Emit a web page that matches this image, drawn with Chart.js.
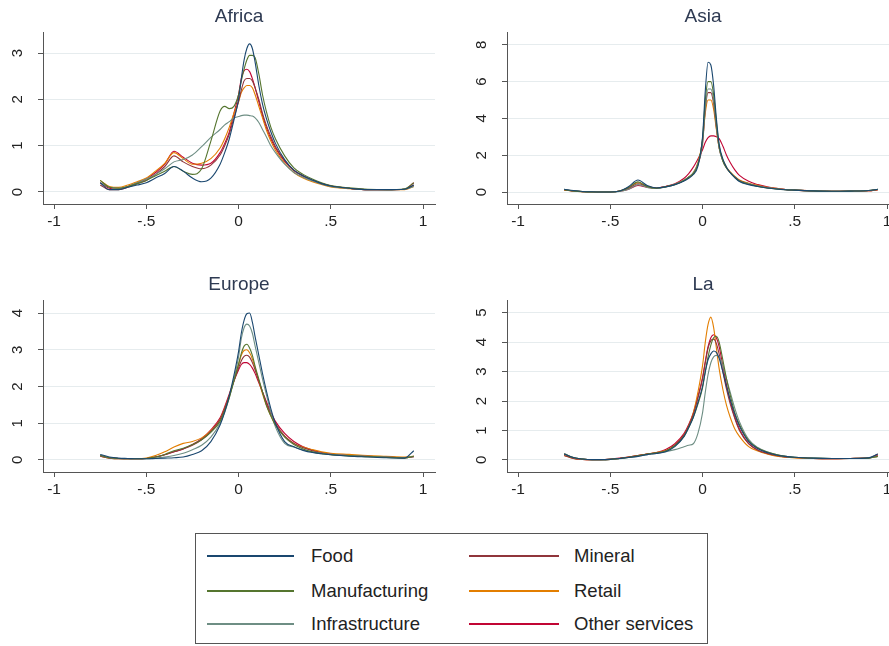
<!DOCTYPE html>
<html>
<head>
<meta charset="utf-8">
<script src="https://cdn.jsdelivr.net/npm/chart.js@4"></script>
<style>
  body { margin: 0; width: 889px; height: 646px; overflow: hidden; background: #fff; position: relative;
         font-family: "Liberation Sans", Arial, sans-serif; }
  canvas.panel { position: absolute; }
  #legend { position: absolute; left: 195px; top: 533px; width: 513px; height: 111px;
            border: 1px solid #555; box-sizing: border-box; }
  .item { position: absolute; height: 22px; line-height: 22px; font-size: 18.5px; color: #222; white-space: nowrap; }
  .item .swatch { position: absolute; top: 10px; height: 1.6px; }
</style>
</head>
<body>
<canvas id="africa" class="panel"></canvas>
<canvas id="asia" class="panel"></canvas>
<canvas id="europe" class="panel"></canvas>
<canvas id="la" class="panel"></canvas>
<div id="legend"></div>

<script>
const seriesNames = ['Food', 'Manufacturing', 'Infrastructure', 'Mineral', 'Retail', 'Other services'];
const seriesColors = ['#1a476f', '#55752f', '#6e8e84', '#90353b', '#e37e00', '#c10534'];

const xTicks = [-1, -0.5, 0, 0.5, 1];
const xTickLabels = ['-1', '-.5', '0', '.5', '1'];

// evaluation points of the densities
const xs = [-0.75, -0.7, -0.65, -0.6, -0.55, -0.5, -0.45, -0.4, -0.35, -0.3,
            -0.25, -0.2, -0.15, -0.1, -0.075, -0.05, -0.025, 0, 0.015, 0.03,
            0.045, 0.06, 0.075, 0.09, 0.11, 0.13, 0.15, 0.175, 0.2, 0.25,
            0.3, 0.35, 0.4, 0.45, 0.5, 0.6, 0.7, 0.8, 0.9, 0.95];

// Africa
const africaFood = [0.2, 0.05, 0.05, 0.1, 0.15, 0.2, 0.3, 0.4, 0.55, 0.45, 0.3, 0.22, 0.3, 0.6, 0.85, 1.15, 1.55, 2.0, 2.45, 2.85, 3.1, 3.2, 3.1, 2.8, 2.3, 1.9, 1.6, 1.3, 1.05, 0.7, 0.47, 0.35, 0.26, 0.18, 0.13, 0.08, 0.05, 0.05, 0.06, 0.15];
const africaManufacturing = [0.25, 0.1, 0.08, 0.12, 0.18, 0.25, 0.35, 0.45, 0.55, 0.45, 0.38, 0.5, 1.1, 1.75, 1.85, 1.8, 1.85, 2.1, 2.4, 2.65, 2.85, 2.95, 2.95, 2.9, 2.55, 2.1, 1.75, 1.4, 1.15, 0.78, 0.52, 0.38, 0.28, 0.2, 0.14, 0.09, 0.06, 0.05, 0.07, 0.2];
const africaInfrastructure = [0.2, 0.1, 0.08, 0.12, 0.2, 0.28, 0.38, 0.5, 0.65, 0.7, 0.8, 0.98, 1.18, 1.35, 1.45, 1.52, 1.6, 1.63, 1.65, 1.66, 1.66, 1.65, 1.64, 1.6, 1.5, 1.35, 1.2, 1.0, 0.85, 0.6, 0.42, 0.32, 0.24, 0.17, 0.12, 0.08, 0.05, 0.05, 0.06, 0.12];
const africaMineral = [0.15, 0.05, 0.05, 0.1, 0.18, 0.25, 0.38, 0.55, 0.78, 0.65, 0.55, 0.5, 0.58, 0.8, 1.0, 1.25, 1.6, 1.95, 2.2, 2.4, 2.45, 2.45, 2.4, 2.25, 2.0, 1.7, 1.45, 1.2, 0.98, 0.68, 0.47, 0.35, 0.25, 0.18, 0.13, 0.08, 0.05, 0.05, 0.06, 0.15];
const africaRetail = [0.25, 0.12, 0.1, 0.15, 0.22, 0.3, 0.45, 0.62, 0.85, 0.72, 0.6, 0.62, 0.72, 0.95, 1.15, 1.4, 1.7, 1.95, 2.15, 2.25, 2.3, 2.3, 2.25, 2.1, 1.85, 1.6, 1.35, 1.1, 0.9, 0.62, 0.42, 0.3, 0.22, 0.16, 0.11, 0.07, 0.05, 0.05, 0.05, 0.12];
const africaOther = [0.2, 0.08, 0.06, 0.12, 0.2, 0.28, 0.42, 0.6, 0.88, 0.75, 0.62, 0.58, 0.62, 0.85, 1.05, 1.3, 1.7, 2.1, 2.45, 2.62, 2.65, 2.6, 2.45, 2.25, 1.95, 1.65, 1.4, 1.15, 0.95, 0.66, 0.46, 0.34, 0.25, 0.18, 0.13, 0.08, 0.05, 0.05, 0.06, 0.2];

// Asia
const asiaFood = [0.15, 0.08, 0.03, 0.01, 0.0, 0.0, 0.05, 0.3, 0.65, 0.35, 0.22, 0.28, 0.4, 0.6, 0.75, 0.95, 1.4, 3.0, 5.5, 7.05, 6.9, 5.8, 4.0, 2.6, 1.8, 1.35, 1.05, 0.78, 0.57, 0.4, 0.3, 0.22, 0.16, 0.12, 0.1, 0.06, 0.04, 0.05, 0.08, 0.15];
const asiaManufacturing = [0.12, 0.06, 0.02, 0.0, 0.0, 0.0, 0.05, 0.25, 0.55, 0.3, 0.2, 0.28, 0.4, 0.62, 0.8, 1.0, 1.5, 2.9, 5.0, 6.0, 6.0, 5.3, 3.8, 2.5, 1.7, 1.3, 1.05, 0.8, 0.6, 0.42, 0.3, 0.22, 0.16, 0.12, 0.1, 0.06, 0.04, 0.05, 0.08, 0.15];
const asiaInfrastructure = [0.15, 0.06, 0.02, 0.0, 0.0, 0.0, 0.03, 0.15, 0.4, 0.25, 0.2, 0.28, 0.42, 0.65, 0.82, 1.05, 1.55, 2.7, 4.6, 5.6, 5.6, 5.0, 3.6, 2.4, 1.7, 1.3, 1.05, 0.8, 0.6, 0.45, 0.32, 0.24, 0.18, 0.13, 0.1, 0.06, 0.04, 0.05, 0.08, 0.15];
const asiaMineral = [0.12, 0.05, 0.02, 0.0, 0.0, 0.0, 0.05, 0.2, 0.45, 0.3, 0.22, 0.3, 0.42, 0.62, 0.8, 1.0, 1.5, 2.6, 4.5, 5.4, 5.4, 4.8, 3.5, 2.4, 1.7, 1.3, 1.05, 0.82, 0.62, 0.45, 0.32, 0.24, 0.18, 0.13, 0.1, 0.06, 0.04, 0.05, 0.07, 0.12];
const asiaRetail = [0.1, 0.05, 0.02, 0.0, 0.0, 0.0, 0.05, 0.25, 0.5, 0.3, 0.22, 0.3, 0.42, 0.65, 0.82, 1.05, 1.6, 2.8, 4.3, 5.0, 5.0, 4.5, 3.4, 2.4, 1.75, 1.35, 1.1, 0.85, 0.65, 0.48, 0.36, 0.26, 0.2, 0.14, 0.1, 0.06, 0.04, 0.05, 0.07, 0.12];
const asiaOther = [0.12, 0.05, 0.02, 0.0, 0.0, 0.0, 0.04, 0.15, 0.35, 0.25, 0.22, 0.3, 0.45, 0.75, 1.0, 1.35, 1.8, 2.3, 2.7, 2.95, 3.05, 3.05, 3.0, 2.9, 2.5, 2.0, 1.6, 1.2, 0.9, 0.58, 0.4, 0.28, 0.2, 0.14, 0.1, 0.06, 0.04, 0.05, 0.07, 0.12];

// Europe
const europeFood = [0.15, 0.08, 0.05, 0.04, 0.03, 0.03, 0.04, 0.05, 0.06, 0.08, 0.15, 0.25, 0.5, 0.95, 1.3, 1.75, 2.3, 2.95, 3.45, 3.8, 3.98, 4.0, 3.75, 3.35, 2.85, 2.35, 1.9, 1.4, 1.0, 0.5, 0.36, 0.26, 0.2, 0.17, 0.14, 0.1, 0.08, 0.06, 0.05, 0.25];
const europeManufacturing = [0.12, 0.06, 0.04, 0.03, 0.03, 0.04, 0.08, 0.15, 0.25, 0.32, 0.42, 0.55, 0.75, 1.05, 1.35, 1.7, 2.15, 2.6, 2.9, 3.1, 3.15, 3.05, 2.85, 2.55, 2.2, 1.85, 1.5, 1.2, 0.95, 0.62, 0.42, 0.3, 0.22, 0.17, 0.14, 0.11, 0.09, 0.07, 0.05, 0.1];
const europeInfrastructure = [0.12, 0.06, 0.04, 0.03, 0.03, 0.03, 0.05, 0.08, 0.12, 0.18, 0.28, 0.4, 0.62, 1.0, 1.3, 1.7, 2.2, 2.8, 3.3, 3.6, 3.7, 3.65, 3.45, 3.1, 2.65, 2.2, 1.8, 1.3, 0.9, 0.45, 0.35, 0.27, 0.22, 0.18, 0.15, 0.12, 0.1, 0.08, 0.06, 0.1];
const europeMineral = [0.1, 0.05, 0.03, 0.03, 0.03, 0.04, 0.08, 0.14, 0.22, 0.3, 0.4, 0.55, 0.78, 1.1, 1.4, 1.75, 2.15, 2.5, 2.7, 2.82, 2.85, 2.8, 2.65, 2.45, 2.15, 1.85, 1.55, 1.25, 1.0, 0.65, 0.45, 0.33, 0.25, 0.19, 0.15, 0.12, 0.1, 0.08, 0.06, 0.08];
const europeRetail = [0.1, 0.05, 0.03, 0.03, 0.03, 0.05, 0.12, 0.22, 0.35, 0.45, 0.5, 0.6, 0.8, 1.1, 1.4, 1.75, 2.2, 2.6, 2.85, 2.98, 3.0, 2.92, 2.75, 2.5, 2.15, 1.8, 1.5, 1.2, 0.95, 0.65, 0.45, 0.35, 0.28, 0.22, 0.18, 0.15, 0.12, 0.1, 0.08, 0.1];
const europeOther = [0.12, 0.06, 0.04, 0.03, 0.03, 0.04, 0.08, 0.14, 0.22, 0.3, 0.42, 0.58, 0.82, 1.15, 1.45, 1.8, 2.15, 2.45, 2.6, 2.65, 2.65, 2.6, 2.5, 2.35, 2.1, 1.85, 1.6, 1.3, 1.05, 0.72, 0.5, 0.36, 0.27, 0.2, 0.16, 0.12, 0.1, 0.08, 0.06, 0.1];

// La
const laFood = [0.2, 0.08, 0.03, 0.01, 0.01, 0.02, 0.05, 0.08, 0.12, 0.18, 0.22, 0.28, 0.45, 0.8, 1.1, 1.45, 1.95, 2.5, 3.0, 3.4, 3.6, 3.7, 3.65, 3.45, 3.0, 2.5, 2.05, 1.55, 1.15, 0.62, 0.38, 0.25, 0.17, 0.12, 0.09, 0.06, 0.05, 0.05, 0.07, 0.2];
const laManufacturing = [0.2, 0.08, 0.03, 0.01, 0.01, 0.02, 0.05, 0.09, 0.14, 0.2, 0.24, 0.3, 0.48, 0.8, 1.1, 1.45, 1.9, 2.45, 3.0, 3.5, 3.9, 4.15, 4.2, 4.0, 3.4, 2.75, 2.2, 1.6, 1.2, 0.65, 0.4, 0.27, 0.18, 0.12, 0.09, 0.06, 0.05, 0.05, 0.06, 0.12];
const laInfrastructure = [0.22, 0.08, 0.03, 0.01, 0.01, 0.02, 0.04, 0.08, 0.12, 0.18, 0.22, 0.28, 0.35, 0.45, 0.5, 0.55, 0.9, 1.6, 2.3, 2.9, 3.3, 3.5, 3.55, 3.5, 3.2, 2.75, 2.3, 1.75, 1.3, 0.7, 0.42, 0.28, 0.18, 0.12, 0.09, 0.06, 0.05, 0.05, 0.06, 0.12];
const laMineral = [0.15, 0.05, 0.02, 0.01, 0.01, 0.02, 0.05, 0.1, 0.15, 0.2, 0.24, 0.3, 0.5, 0.85, 1.15, 1.55, 2.1, 2.75, 3.3, 3.8, 4.05, 4.1, 3.95, 3.6, 3.0, 2.4, 1.9, 1.4, 1.0, 0.55, 0.33, 0.22, 0.15, 0.1, 0.08, 0.05, 0.04, 0.05, 0.06, 0.2];
const laRetail = [0.15, 0.05, 0.02, 0.01, 0.01, 0.02, 0.05, 0.1, 0.15, 0.2, 0.25, 0.32, 0.5, 0.85, 1.15, 1.6, 2.3, 3.2, 4.0, 4.6, 4.85, 4.5, 3.8, 3.1, 2.4, 1.85, 1.45, 1.05, 0.8, 0.45, 0.3, 0.2, 0.13, 0.09, 0.07, 0.05, 0.04, 0.05, 0.07, 0.12];
const laOther = [0.2, 0.06, 0.02, 0.01, 0.01, 0.03, 0.06, 0.1, 0.15, 0.2, 0.25, 0.35, 0.55, 0.9, 1.2, 1.6, 2.15, 2.8, 3.35, 3.85, 4.15, 4.25, 4.15, 3.85, 3.2, 2.55, 2.0, 1.45, 1.05, 0.55, 0.33, 0.22, 0.15, 0.1, 0.08, 0.05, 0.04, 0.05, 0.07, 0.15];

const axisColor = '#555';
const gridColor = '#e6ecee';

// panel title centred over the plot region
const panelTitle = {
  id: 'panelTitle',
  afterDraw(chart, args, opts) {
    const { ctx, chartArea } = chart;
    ctx.save();
    ctx.font = '19px "Liberation Sans", Arial, sans-serif';
    ctx.fillStyle = '#2e3a52';
    ctx.textAlign = 'center';
    ctx.textBaseline = 'middle';
    ctx.fillText(opts.text, (chartArea.left + chartArea.right) / 2, 17);
    ctx.restore();
  }
};

// vertical y labels, reading bottom to top
const verticalYLabels = {
  id: 'verticalYLabels',
  afterDraw(chart) {
    const { ctx, chartArea } = chart;
    const y = chart.scales.y;
    ctx.save();
    ctx.font = '15px "Liberation Sans", Arial, sans-serif';
    ctx.fillStyle = '#222';
    ctx.textAlign = 'center';
    ctx.textBaseline = 'middle';
    y.ticks.forEach(t => {
      const py = y.getPixelForValue(t.value);
      ctx.save();
      ctx.translate(chartArea.left - 25, py);
      ctx.rotate(-Math.PI / 2);
      ctx.fillText(String(t.value), 0, 0);
      ctx.restore();
    });
    ctx.restore();
  }
};

function makePanel(id, left, top, title, yMin, yMax, yTicks, values) {
  const canvas = document.getElementById(id);
  canvas.width = 445;
  canvas.height = 240;
  canvas.style.left = left + 'px';
  canvas.style.top = top + 'px';

  const datasets = values.map((vals, i) => ({
    label: seriesNames[i],
    data: xs.map((x, j) => ({ x: x, y: vals[j] })),
    borderColor: seriesColors[i],
    borderWidth: 1.1,
    pointRadius: 0,
    fill: false,
    cubicInterpolationMode: 'monotone'
  }));

  return new Chart(canvas, {
    type: 'line',
    data: { datasets: datasets },
    plugins: [panelTitle, verticalYLabels],
    options: {
      responsive: false,
      animation: false,
      layout: { padding: { top: 32, right: 10, left: 0, bottom: 0 } },
      plugins: {
        legend: { display: false },
        tooltip: { enabled: false },
        panelTitle: { text: title }
      },
      scales: {
        x: {
          type: 'linear',
          min: -1.06,
          max: 1.065,
          afterBuildTicks: s => { s.ticks = xTicks.map(v => ({ value: v })); },
          afterFit: s => { s.height = 36; },
          ticks: {
            autoSkip: false,
            maxRotation: 0,
            padding: 3,
            color: '#222',
            font: { size: 15.5, family: '"Liberation Sans", Arial, sans-serif' },
            callback: v => xTickLabels[xTicks.indexOf(v)]
          },
          grid: { drawOnChartArea: false, tickColor: axisColor, tickLength: 5 },
          border: { color: axisColor }
        },
        y: {
          type: 'linear',
          min: yMin,
          max: yMax,
          afterBuildTicks: s => { s.ticks = yTicks.map(v => ({ value: v })); },
          afterFit: s => { s.width = 43; },
          ticks: { display: false },
          grid: { color: gridColor, tickColor: axisColor, tickLength: 5 },
          border: { color: axisColor }
        }
      }
    }
  });
}

makePanel('africa', 0, 0, 'Africa', -0.26, 3.456, [0, 1, 2, 3],
  [africaFood, africaManufacturing, africaInfrastructure, africaMineral, africaRetail, africaOther]);
makePanel('asia', 464, 0, 'Asia', -0.652, 8.696, [0, 2, 4, 6, 8],
  [asiaFood, asiaManufacturing, asiaInfrastructure, asiaMineral, asiaRetail, asiaOther]);
makePanel('europe', 0, 268, 'Europe', -0.329, 4.356, [0, 1, 2, 3, 4],
  [europeFood, europeManufacturing, europeInfrastructure, europeMineral, europeRetail, europeOther]);
makePanel('la', 464, 268, 'La', -0.41, 5.43, [0, 1, 2, 3, 4, 5],
  [laFood, laManufacturing, laInfrastructure, laMineral, laRetail, laOther]);

// shared legend: two columns, three rows
const legend = document.getElementById('legend');
const rowTops = [11, 46, 79];
seriesNames.forEach((name, i) => {
  const col = i < 3 ? 0 : 1;
  const row = i % 3;
  const item = document.createElement('div');
  item.className = 'item';
  item.style.left = (col === 0 ? 11 : 273) + 'px';
  item.style.top = rowTops[row] + 'px';
  const sw = document.createElement('div');
  sw.className = 'swatch';
  sw.style.left = '0px';
  sw.style.width = (col === 0 ? 87 : 90) + 'px';
  sw.style.background = seriesColors[i];
  const label = document.createElement('span');
  label.textContent = name;
  label.style.position = 'absolute';
  label.style.left = (col === 0 ? 104 : 105) + 'px';
  item.appendChild(sw);
  item.appendChild(label);
  legend.appendChild(item);
});
</script>
</body>
</html>
